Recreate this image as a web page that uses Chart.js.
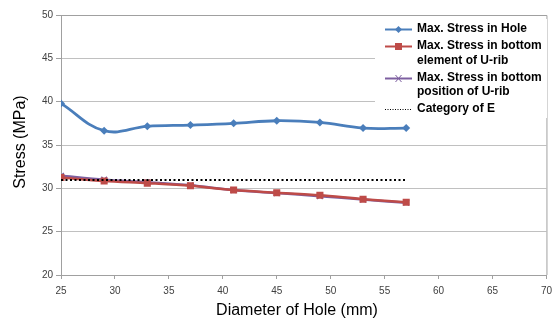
<!DOCTYPE html>
<html><head><meta charset="utf-8">
<script src="https://cdn.jsdelivr.net/npm/chart.js@4.4.1/dist/chart.umd.min.js"></script>
<style>html,body{margin:0;padding:0;background:#fff;}#wrap{width:558px;height:321px;position:relative;}</style>
</head><body><div id="wrap"><canvas id="c" width="558" height="321"></canvas></div>
<script>
const diameters = [25, 29, 33, 37, 41, 45, 49, 53, 57];
const stressHole = [39.8, 36.65, 37.15, 37.3, 37.5, 37.8, 37.6, 36.95, 36.95];
const stressBottomElement = [31.25, 30.85, 30.6, 30.3, 29.8, 29.5, 29.2, 28.75, 28.4];
const stressBottomPosition = [31.45, 31.0, 30.7, 30.35, 29.8, 29.45, 29.1, 28.7, 28.35];
const categoryE = [30.95, 30.95, 30.95, 30.95, 30.95, 30.95, 30.95, 30.95, 30.95];
const xTicks = [25, 30, 35, 40, 45, 50, 55, 60, 65, 70];
const yTicks = [20, 25, 30, 35, 40, 45, 50];
const seriesNames = ['Max. Stress in Hole', 'Max. Stress in bottom element of U-rib', 'Max. Stress in bottom position of U-rib', 'Category of E'];
const legendLines = [['Max. Stress in Hole'], ['Max. Stress in bottom', 'element of U-rib'], ['Max. Stress in bottom', 'position of U-rib'], ['Category of E']];
const xTitle = 'Diameter of Hole (mm)';
const yTitle = 'Stress (MPa)';

const pts = arr => diameters.map((d, i) => ({x: d, y: arr[i]}));
const BLUE = '#4a7ebb', RED = '#be4b48', PURPLE = '#7d5fa0';
const FONT = '"Liberation Sans", Arial, sans-serif';

const legendPlugin = {
  id: 'customLegend',
  afterDraw(chart) {
    const ctx = chart.ctx;
    const a = chart.chartArea;
    ctx.save();
    ctx.strokeStyle = '#a0a0a0';
    ctx.lineWidth = 1;
    ctx.beginPath();
    ctx.moveTo(a.left, a.top + 0.5); ctx.lineTo(a.right + 0.5, a.top + 0.5); ctx.lineTo(a.right + 0.5, a.bottom);
    ctx.stroke();
    // axis titles
    ctx.fillStyle = '#000';
    ctx.textAlign = 'center'; ctx.textBaseline = 'middle';
    ctx.font = '16px ' + FONT;
    ctx.fillText(xTitle, 297, 311);
    ctx.save();
    ctx.translate(21, 142); ctx.rotate(-Math.PI / 2);
    ctx.fillText(yTitle, 0, 0);
    ctx.restore();
    // legend box
    ctx.textAlign = 'left';
    ctx.fillStyle = '#fff';
    ctx.fillRect(375, 19, 172, 99);
    ctx.font = 'bold 12px ' + FONT;
    const ys = [[29], [46, 61], [78, 92], [109]];
    const x0 = 385, x1 = 412, tx = 417;
    ctx.strokeStyle = BLUE; ctx.lineWidth = 2;
    ctx.beginPath(); ctx.moveTo(x0, 29.5); ctx.lineTo(x1, 29.5); ctx.stroke();
    ctx.fillStyle = BLUE;
    ctx.beginPath(); ctx.moveTo(398.5, 26); ctx.lineTo(402, 29.5); ctx.lineTo(398.5, 33); ctx.lineTo(395, 29.5); ctx.closePath(); ctx.fill();
    ctx.strokeStyle = RED;
    ctx.beginPath(); ctx.moveTo(x0, 46.5); ctx.lineTo(x1, 46.5); ctx.stroke();
    ctx.fillStyle = RED; ctx.fillRect(395, 43, 7, 7);
    ctx.strokeStyle = PURPLE;
    ctx.beginPath(); ctx.moveTo(x0, 78.5); ctx.lineTo(x1, 78.5); ctx.stroke();
    ctx.lineWidth = 1;
    ctx.beginPath(); ctx.moveTo(395.5, 75); ctx.lineTo(401.5, 82); ctx.moveTo(401.5, 75); ctx.lineTo(395.5, 82); ctx.stroke();
    ctx.strokeStyle = '#000'; ctx.lineWidth = 1; ctx.setLineDash([1, 1.5]);
    ctx.beginPath(); ctx.moveTo(x0, 109.5); ctx.lineTo(x1, 109.5); ctx.stroke();
    ctx.setLineDash([]);
    ctx.fillStyle = '#000';
    legendLines.forEach((lines, i) => lines.forEach((t, j) => ctx.fillText(t, tx, ys[i][j])));
    ctx.restore();
  }
};

new Chart(document.getElementById('c'), {
  type: 'line',
  data: {
    datasets: [
      {label: seriesNames[0], data: pts(stressHole), borderColor: BLUE, backgroundColor: BLUE, borderWidth: 2.8, tension: 0.4, pointStyle: 'rectRot', pointRadius: 4, pointBorderWidth: 0, order: 3},
      {label: seriesNames[1], data: pts(stressBottomElement), borderColor: RED, backgroundColor: RED, borderWidth: 2.5, tension: 0.3, pointStyle: 'rect', pointRadius: 5, pointBorderWidth: 0, order: 1},
      {label: seriesNames[2], data: pts(stressBottomPosition), borderColor: PURPLE, backgroundColor: PURPLE, borderWidth: 2.5, tension: 0.3, pointStyle: 'crossRot', pointRadius: 4, pointBorderWidth: 1.5, order: 2},
      {label: seriesNames[3], data: pts(categoryE), borderColor: '#000', borderWidth: 2, borderDash: [2, 2.5], pointRadius: 0, tension: 0, order: 0}
    ]
  },
  options: {
    responsive: false,
    animation: false,
    layout: {padding: {left: 0, right: 7, top: 15, bottom: 0}},
    plugins: {legend: {display: false}, tooltip: {enabled: false}},
    scales: {
      x: {
        type: 'linear', min: 25, max: 70,
        afterBuildTicks: s => { s.ticks = xTicks.map(v => ({value: v})); },
        afterFit: s => { s.height = 46; },
        grid: {drawOnChartArea: false, color: '#a0a0a0', tickLength: 4, tickColor: '#a0a0a0'},
        border: {color: '#a0a0a0'},
        ticks: {color: '#404040', font: {size: 10, family: FONT}, padding: 6, maxRotation: 0},
        title: {display: false}
      },
      y: {
        min: 20, max: 50,
        afterBuildTicks: s => { s.ticks = yTicks.map(v => ({value: v})); },
        afterFit: s => { s.width = 61; },
        grid: {color: '#c0c0c0', tickLength: 5, tickColor: '#a0a0a0'},
        border: {color: '#a0a0a0'},
        ticks: {color: '#404040', font: {size: 10, family: FONT}, padding: 3},
        title: {display: false}
      }
    }
  },
  plugins: [legendPlugin]
});
</script></body></html>
